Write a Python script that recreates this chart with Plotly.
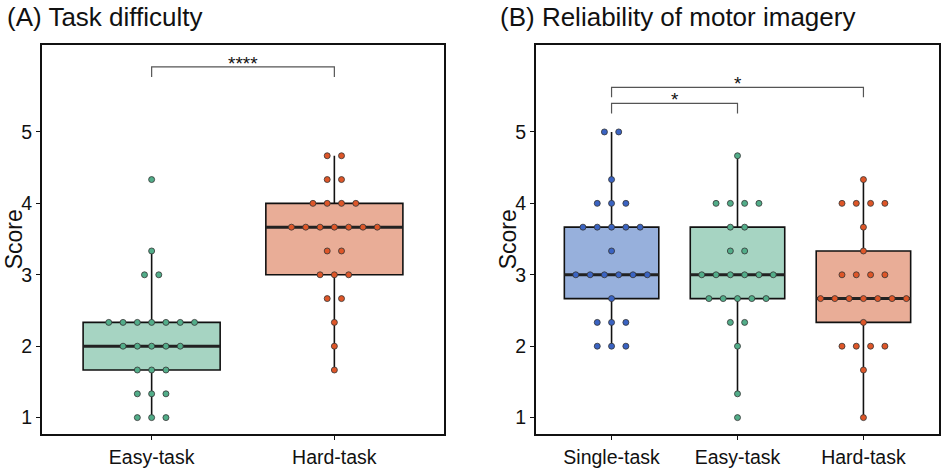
import numpy as np
import plotly.graph_objects as go

# ---------------- data ----------------
cats_a = ["Easy-task", "Hard-task"]
easy_a = [1, 1, 1, 4/3, 4/3, 4/3, 5/3, 5/3, 5/3, 2, 2, 2, 2, 2,
          7/3, 7/3, 7/3, 7/3, 7/3, 7/3, 7/3, 3, 3, 10/3, 13/3]
hard_a = [5/3, 2, 7/3, 8/3, 8/3, 3, 3, 3, 10/3, 10/3,
          11/3, 11/3, 11/3, 11/3, 11/3, 11/3, 11/3, 4, 4, 4, 4,
          13/3, 13/3, 14/3, 14/3]

cats_b = ["Single-task", "Easy-task", "Hard-task"]
single_b = [2, 2, 2, 7/3, 7/3, 7/3, 8/3, 3, 3, 3, 3, 3, 3, 10/3,
            11/3, 11/3, 11/3, 11/3, 11/3, 4, 4, 4, 13/3, 5, 5]
easy_b = [1, 4/3, 2, 7/3, 7/3, 8/3, 8/3, 8/3, 8/3, 8/3, 3, 3, 3, 3, 3, 3,
          10/3, 10/3, 11/3, 11/3, 4, 4, 4, 4, 14/3]
hard_b = [1, 5/3, 2, 2, 2, 2, 7/3, 8/3, 8/3, 8/3, 8/3, 8/3, 8/3, 8/3,
          3, 3, 3, 3, 10/3, 11/3, 4, 4, 4, 4, 13/3]

sig_a = ["****"]
sig_b = ["*", "*"]
y_ticks = [1, 2, 3, 4, 5]

# ---------------- styles ----------------
W, H = 943, 468
FONT = "Arial, Liberation Sans, sans-serif"
fill = {"blue": "#97b0dc", "green": "#a6d4c2", "orange": "#e9ad97"}
dot = {"blue": "#3a63c2", "green": "#52ad89", "orange": "#de5628"}

dom_a = [42 / W, 444 / W]
dom_b = [536 / W, 939 / W]
dom_y = [1 - 441 / H, 1 - 45.5 / H]
xr_a = [0.4, 2.6]
xr_b = [0.4, 3.6]
yr = [0.765, 6.22]
DOT_SPACING_PX = 14.3
BOX_W = 0.75

fig = go.Figure()


def add_group(vals, pos, color, xa, ya, unit_per_px):
    fig.add_trace(go.Box(
        y=vals, x=[pos] * len(vals), xaxis=xa, yaxis=ya,
        width=BOX_W, whiskerwidth=0, quartilemethod="inclusive",
        boxpoints="outliers", marker=dict(opacity=0, size=1),
        fillcolor=fill[color], line=dict(color="#111111", width=1.6),
        showlegend=False, hoverinfo="skip"))
    med = float(np.median(vals))
    fig.add_trace(go.Scatter(
        x=[pos - BOX_W / 2, pos + BOX_W / 2], y=[med, med], mode="lines",
        line=dict(color="#222222", width=3), xaxis=xa, yaxis=ya,
        showlegend=False, hoverinfo="skip"))
    # beeswarm-like centred rows
    xs, ys = [], []
    keys = sorted(set(round(v, 6) for v in vals))
    for k in keys:
        row = [v for v in vals if round(v, 6) == k]
        n = len(row)
        for i, v in enumerate(row):
            xs.append(pos + (i - (n - 1) / 2) * DOT_SPACING_PX * unit_per_px)
            ys.append(v)
    fig.add_trace(go.Scatter(
        x=xs, y=ys, mode="markers", xaxis=xa, yaxis=ya,
        marker=dict(color=dot[color], size=6,
                    line=dict(color="#333333", width=0.8)),
        showlegend=False, hoverinfo="skip"))


upp_a = (xr_a[1] - xr_a[0]) / (W * (dom_a[1] - dom_a[0]))
upp_b = (xr_b[1] - xr_b[0]) / (W * (dom_b[1] - dom_b[0]))

add_group(easy_a, 1, "green", "x", "y", upp_a)
add_group(hard_a, 2, "orange", "x", "y", upp_a)
add_group(single_b, 1, "blue", "x2", "y2", upp_b)
add_group(easy_b, 2, "green", "x2", "y2", upp_b)
add_group(hard_b, 3, "orange", "x2", "y2", upp_b)

# significance brackets
brackets = [("x", "y", 1, 2, 5.77, 5.91, sig_a[0]),
            ("x2", "y2", 1, 2, 5.26, 5.40, sig_b[0]),
            ("x2", "y2", 1, 3, 5.486, 5.625, sig_b[1])]
shapes, annotations = [], []
for xa, ya, x0, x1, yl, yt, txt in brackets:
    shapes.append(dict(type="path", xref=xa, yref=ya,
                       path=f"M {x0},{yl} L {x0},{yt} L {x1},{yt} L {x1},{yl}",
                       line=dict(color="#555555", width=1.2)))
    annotations.append(dict(x=(x0 + x1) / 2, y=yt, xref=xa, yref=ya,
                            text=txt, showarrow=False, yanchor="bottom",
                            yshift=-9, font=dict(family=FONT, size=19, color="#111111")))

# titles
annotations += [
    dict(text="(A) Task difficulty", x=5 / W, y=1 - 17 / H, xref="paper", yref="paper",
         xanchor="left", yanchor="middle", showarrow=False,
         font=dict(family=FONT, size=26, color="#111111")),
    dict(text="(B) Reliability of motor imagery", x=498 / W, y=1 - 17 / H,
         xref="paper", yref="paper", xanchor="left", yanchor="middle",
         showarrow=False, font=dict(family=FONT, size=26, color="#111111")),
    dict(text="Score", x=14 / W, y=1 - 243 / H, xref="paper", yref="paper",
         textangle=-90, xanchor="center", yanchor="middle", showarrow=False,
         font=dict(family=FONT, size=23, color="#111111")),
    dict(text="Score", x=508 / W, y=1 - 243 / H, xref="paper", yref="paper",
         textangle=-90, xanchor="center", yanchor="middle", showarrow=False,
         font=dict(family=FONT, size=23, color="#111111")),
]

axis_common = dict(showline=True, linecolor="#111111", linewidth=2, mirror=True,
                   ticks="outside", ticklen=4, tickwidth=1, tickcolor="#111111",
                   showgrid=False, zeroline=False,
                   tickfont=dict(family=FONT, size=19.5, color="#111111"))

fig.update_layout(
    width=W, height=H, margin=dict(l=0, r=0, t=0, b=0),
    paper_bgcolor="white", plot_bgcolor="white",
    xaxis=dict(domain=dom_a, range=xr_a, tickvals=[1, 2], ticktext=cats_a,
               anchor="y", **axis_common),
    yaxis=dict(domain=dom_y, range=yr, tickvals=y_ticks, anchor="x", **axis_common),
    xaxis2=dict(domain=dom_b, range=xr_b, tickvals=[1, 2, 3], ticktext=cats_b,
                anchor="y2", **axis_common),
    yaxis2=dict(domain=dom_y, range=yr, tickvals=y_ticks, anchor="x2", **axis_common),
    shapes=shapes, annotations=annotations,
)

fig.write_html("out.html", config={"displayModeBar": False},
               post_script="document.body.style.margin='0';"
                           "document.body.style.overflow='hidden';")
